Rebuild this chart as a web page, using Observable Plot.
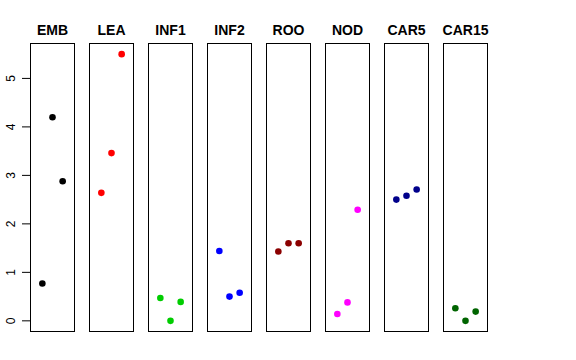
<!DOCTYPE html>
<html>
<head>
<meta charset="utf-8">
<script src="https://cdn.jsdelivr.net/npm/d3@7"></script>
<script src="https://cdn.jsdelivr.net/npm/@observablehq/plot@0.6"></script>
<style>
  html, body { margin: 0; padding: 0; background: #fff; }
</style>
</head>
<body>
<div id="chart"></div>
<script>
const tissues = ["EMB", "LEA", "INF1", "INF2", "ROO", "NOD", "CAR5", "CAR15"];
const colors = ["#000000", "#FF0000", "#00CD00", "#0000FF", "#8B0000", "#FF00FF", "#00008B", "#006400"];
const replicate = [1, 2, 3];
const EMB = [0.77, 4.20, 2.88];
const LEA = [2.64, 3.46, 5.50];
const INF1 = [0.47, 0.00, 0.39];
const INF2 = [1.44, 0.50, 0.58];
const ROO = [1.43, 1.60, 1.60];
const NOD = [0.14, 0.38, 2.29];
const CAR5 = [2.50, 2.58, 2.71];
const CAR15 = [0.26, 0.00, 0.19];
const yTicks = [0, 1, 2, 3, 4, 5];

const series = {EMB, LEA, INF1, INF2, ROO, NOD, CAR5, CAR15};
const data = tissues.flatMap(t => series[t].map((v, i) => ({tissue: t, rep: replicate[i], value: v})));

const chart = Plot.plot({
  width: 576,
  height: 360,
  marginTop: 43,
  marginBottom: 29,
  marginLeft: 29,
  marginRight: 88,
  style: {fontFamily: "Liberation Sans, Arial, sans-serif", background: "#fff"},
  fx: {domain: tissues, paddingInner: 0.247, paddingOuter: 0, label: null},
  x: {domain: [-0.165, 4.165], axis: null},
  y: {domain: [-0.22, 5.72], label: null},
  color: {domain: tissues, range: colors},
  marks: [
    Plot.frame({stroke: "#000", strokeWidth: 1}),
    Plot.axisFx({anchor: "top", tickSize: 0, tickPadding: 9, fontSize: 14, fontWeight: "bold", label: null, fill: "#000"}),
    Plot.axisY({ticks: yTicks, tickFormat: d => String(d), tickSize: 8, tickPadding: 8, tickRotate: -90, fontSize: 12, label: null, stroke: "#000", fill: "#000"}),
    Plot.dot(data, {fx: "tissue", x: "rep", y: "value", fill: "tissue", r: 3.3, stroke: null})
  ]
});
document.getElementById("chart").appendChild(chart);
</script>
</body>
</html>
